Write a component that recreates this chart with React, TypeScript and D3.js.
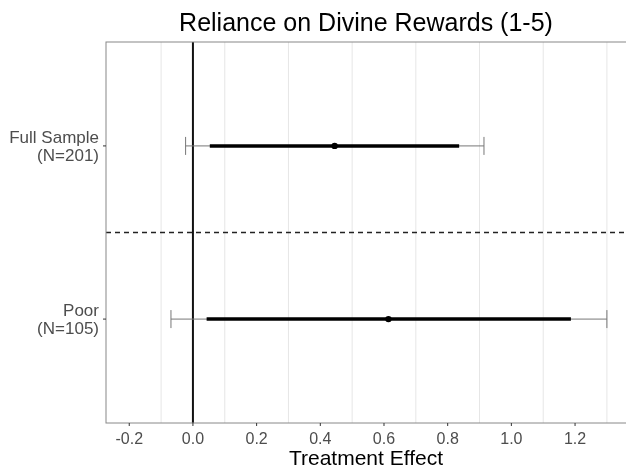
import { useEffect, useRef } from "react"
import * as d3 from "d3"

// groups, top to bottom
const groups = ["Full Sample", "Poor"]
const groupN = ["(N=201)", "(N=105)"]
const estimates = [0.445, 0.614]
const ci90Low = [0.053, 0.043]
const ci90High = [0.836, 1.187]
const ci95Low = [-0.023, -0.069]
const ci95High = [0.914, 1.3]
const xTicks = [-0.2, 0, 0.2, 0.4, 0.6, 0.8, 1.0, 1.2]
const xGrid = [-0.1, 0.1, 0.3, 0.5, 0.7, 0.9, 1.1, 1.3]

export default function App() {
  const svgRef = useRef<SVGSVGElement>(null)

  useEffect(() => {
    if (!svgRef.current) return
    const W = 626
    const H = 468
    const margin = { top: 42, right: 0, bottom: 45, left: 106 }
    const width = W - margin.left - margin.right
    const height = H - margin.top - margin.bottom

    const root = d3.select(svgRef.current)
    root.selectAll("*").remove()
    root.attr("width", W).attr("height", H)

    const font = "Liberation Sans, Arial, sans-serif"

    const svg = root.append("g").attr("transform", `translate(${margin.left},${margin.top})`)

    const x = d3.scaleLinear().domain([-0.273, 1.36]).range([0, width])
    // discrete y with ggplot-like 0.6 expansion
    const y = d3.scaleLinear().domain([0.4, 2.6]).range([0, height])

    // gridlines
    svg
      .selectAll(".grid")
      .data(xGrid)
      .enter()
      .append("line")
      .attr("x1", (d) => x(d))
      .attr("x2", (d) => x(d))
      .attr("y1", 0)
      .attr("y2", height)
      .attr("stroke", "#e6e6e6")
      .attr("stroke-width", 1)

    // zero line
    svg
      .append("line")
      .attr("x1", x(0))
      .attr("x2", x(0))
      .attr("y1", 0)
      .attr("y2", height)
      .attr("stroke", "#111")
      .attr("stroke-width", 2)

    // divider between groups
    svg
      .append("line")
      .attr("x1", 0)
      .attr("x2", width)
      .attr("y1", y(1.5))
      .attr("y2", y(1.5))
      .attr("stroke", "#222")
      .attr("stroke-width", 1.5)
      .attr("stroke-dasharray", "5,4")

    const rows = groups.map((g, i) => ({
      g,
      pos: i + 1,
      est: estimates[i],
      lo90: ci90Low[i],
      hi90: ci90High[i],
      lo95: ci95Low[i],
      hi95: ci95High[i],
    }))

    const row = svg
      .selectAll(".row")
      .data(rows)
      .enter()
      .append("g")
      .attr("transform", (d) => `translate(0,${y(d.pos)})`)

    // thin 95% interval with caps
    row
      .append("line")
      .attr("x1", (d) => x(d.lo95))
      .attr("x2", (d) => x(d.hi95))
      .attr("stroke", "#777")
      .attr("stroke-width", 1)
    row
      .append("line")
      .attr("x1", (d) => x(d.lo95))
      .attr("x2", (d) => x(d.lo95))
      .attr("y1", -9)
      .attr("y2", 9)
      .attr("stroke", "#777")
      .attr("stroke-width", 1)
    row
      .append("line")
      .attr("x1", (d) => x(d.hi95))
      .attr("x2", (d) => x(d.hi95))
      .attr("y1", -9)
      .attr("y2", 9)
      .attr("stroke", "#777")
      .attr("stroke-width", 1)

    // thick 90% interval
    row
      .append("line")
      .attr("x1", (d) => x(d.lo90))
      .attr("x2", (d) => x(d.hi90))
      .attr("stroke", "#000")
      .attr("stroke-width", 3.5)

    row
      .append("circle")
      .attr("cx", (d) => x(d.est))
      .attr("r", 3.2)
      .attr("fill", "#000")

    // panel border
    svg
      .append("rect")
      .attr("width", width + 2)
      .attr("height", height)
      .attr("fill", "none")
      .attr("stroke", "#888")
      .attr("stroke-width", 1)

    // x axis ticks + labels
    const xa = svg.append("g").attr("transform", `translate(0,${height})`)
    xa.selectAll("line")
      .data(xTicks)
      .enter()
      .append("line")
      .attr("x1", (d) => x(d))
      .attr("x2", (d) => x(d))
      .attr("y1", 0)
      .attr("y2", 3)
      .attr("stroke", "#333")
    xa.selectAll("text")
      .data(xTicks)
      .enter()
      .append("text")
      .attr("x", (d) => x(d))
      .attr("y", 21)
      .attr("text-anchor", "middle")
      .attr("font-family", font)
      .attr("font-size", 16)
      .attr("fill", "#4d4d4d")
      .text((d) => d.toFixed(1))

    // y axis ticks + labels
    rows.forEach((d, i) => {
      svg
        .append("line")
        .attr("x1", -3)
        .attr("x2", 0)
        .attr("y1", y(d.pos))
        .attr("y2", y(d.pos))
        .attr("stroke", "#333")
      const t = svg
        .append("text")
        .attr("x", -7)
        .attr("y", y(d.pos))
        .attr("text-anchor", "end")
        .attr("font-family", font)
        .attr("font-size", 17)
        .attr("fill", "#4d4d4d")
      t.append("tspan").attr("x", -7).attr("dy", -3).text(d.g)
      t.append("tspan").attr("x", -7).attr("dy", 18).text(groupN[i])
    })

    // title
    root
      .append("text")
      .attr("x", margin.left + width / 2)
      .attr("y", 31)
      .attr("text-anchor", "middle")
      .attr("font-family", font)
      .attr("font-size", 25)
      .attr("fill", "#000")
      .text("Reliance on Divine Rewards (1-5)")

    // axis title
    root
      .append("text")
      .attr("x", margin.left + width / 2)
      .attr("y", 465)
      .attr("text-anchor", "middle")
      .attr("font-family", font)
      .attr("font-size", 21)
      .attr("fill", "#000")
      .text("Treatment Effect")
  }, [])

  return (
    <div style={{ position: "fixed", left: 0, top: 0, width: 626, height: 468, overflow: "hidden" }}>
      <svg ref={svgRef} style={{ display: "block" }} />
    </div>
  )
}
